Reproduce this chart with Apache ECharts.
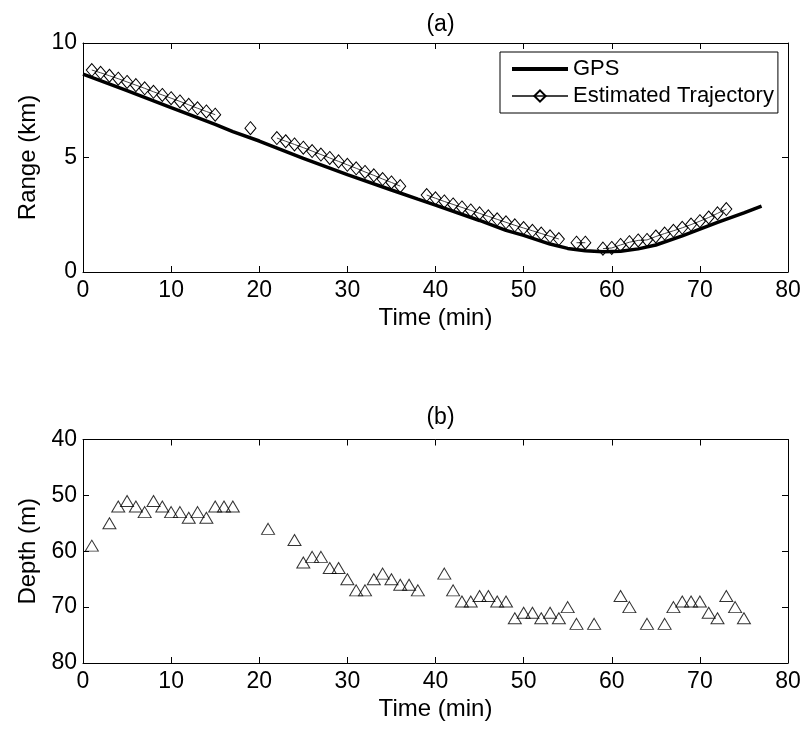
<!DOCTYPE html>
<html>
<head>
<meta charset="utf-8">
<script src="https://cdn.jsdelivr.net/npm/echarts@6/dist/echarts.min.js"></script>
<style>
  html, body { margin: 0; padding: 0; background: #fff; }
  #chart { width: 805px; height: 731px; }
</style>
</head>
<body>
<div id="chart"></div>
<script>
// ---- data ----
const xTicks = [0, 10, 20, 30, 40, 50, 60, 70, 80];
const rangeTicks = [0, 5, 10];
const depthTicks = [40, 50, 60, 70, 80];

// GPS range (km) vs time (min)
const gpsTime  = [0, 5, 10, 15, 17, 20, 25, 30, 35, 38, 40, 45, 48, 50, 53, 55, 57, 59, 61, 63, 65, 68, 70, 72, 75, 77];
const gpsRange = [8.64, 7.92, 7.18, 6.45, 6.13, 5.72, 4.96, 4.25, 3.58, 3.18, 2.92, 2.25, 1.82, 1.60, 1.22, 1.03, 0.93, 0.88, 0.91, 1.01, 1.18, 1.58, 1.87, 2.17, 2.58, 2.88];

// Estimated trajectory (diamonds)
const estTime  = [1, 2, 3, 4, 5, 6, 7, 8, 9, 10, 11, 12, 13, 14, 15,
                  19,
                  22, 23, 24, 25, 26, 27, 28, 29, 30, 31, 32, 33, 34, 35, 36,
                  39, 40, 41, 42, 43, 44, 45, 46, 47, 48, 49, 50, 51, 52, 53, 54,
                  56, 57,
                  59, 60, 61, 62, 63, 64, 65, 66, 67, 68, 69, 70, 71, 72, 73];
const estRange = [8.82, 8.70, 8.57, 8.44, 8.30, 8.16, 8.02, 7.87, 7.73, 7.59, 7.45, 7.30, 7.15, 7.01, 6.87,
                  6.28,
                  5.85, 5.71, 5.57, 5.43, 5.28, 5.13, 4.98, 4.83, 4.68, 4.53, 4.37, 4.22, 4.06, 3.91, 3.75,
                  3.36, 3.22, 3.08, 2.95, 2.82, 2.69, 2.56, 2.43, 2.30, 2.17, 2.04, 1.92, 1.80, 1.68, 1.56, 1.44,
                  1.28, 1.28,
                  1.02, 1.05, 1.18, 1.30, 1.38, 1.40, 1.55, 1.68, 1.80, 1.93, 2.07, 2.22, 2.38, 2.56, 2.75];

// Depth (m) vs time (min) (triangles)
const depthTime = [1, 3, 4, 5, 6, 7, 8, 9, 10, 11, 12, 13, 14, 15, 16, 17,
                   21, 24, 25, 26, 27, 28, 29, 30, 31, 32, 33, 34, 35, 36, 37, 38,
                   41, 42, 43, 44, 45, 46, 47, 48, 49, 50, 51, 52, 53, 54, 55, 56,
                   58, 61, 62, 64, 66, 67, 68, 69, 70, 71, 72, 73, 74, 75];
const depthVal  = [59, 55, 52, 51, 52, 53, 51, 52, 53, 53, 54, 53, 54, 52, 52, 52,
                   56, 58, 62, 61, 61, 63, 63, 65, 67, 67, 65, 64, 65, 66, 66, 67,
                   64, 67, 69, 69, 68, 68, 69, 69, 72, 71, 71, 72, 71, 72, 70, 73,
                   73, 68, 70, 73, 73, 70, 69, 69, 69, 71, 72, 68, 70, 72];

// ---- build ----
const FONT = "'Liberation Sans', Arial, sans-serif";
const gpsData = gpsTime.map((t, i) => [t, gpsRange[i]]);
const estData = [];
estTime.forEach((t, i) => {
  if (i > 0 && t - estTime[i - 1] > 1) estData.push([null, null]);
  estData.push([t, estRange[i]]);
});
const depthData = depthTime.map((t, i) => [t, depthVal[i]]);

function xAx(grid, primary) {
  return {
    gridIndex: grid, type: 'value', min: xTicks[0], max: xTicks[xTicks.length - 1], interval: 10,
    position: primary ? 'bottom' : 'top',
    name: primary ? 'Time (min)' : '', nameLocation: 'middle', nameGap: 34,
    nameTextStyle: { fontSize: 24, color: '#000', fontFamily: FONT, lineHeight: 24 },
    axisLine: { show: true, onZero: false, lineStyle: { color: '#000', width: 1 } },
    axisTick: { show: true, inside: true, length: 6, lineStyle: { color: '#000', width: 1 } },
    axisLabel: { show: primary, fontSize: 23, color: '#000', fontFamily: FONT, margin: 7 },
    splitLine: { show: false }
  };
}
function yAx(grid, primary, ticks, name, inverse) {
  return {
    gridIndex: grid, type: 'value', min: ticks[0], max: ticks[ticks.length - 1],
    interval: ticks[1] - ticks[0], inverse: inverse,
    position: primary ? 'left' : 'right',
    name: primary ? name : '', nameLocation: 'middle', nameGap: 42, nameRotate: 90,
    nameTextStyle: { fontSize: 24, color: '#000', fontFamily: FONT, lineHeight: 24 },
    axisLine: { show: true, onZero: false, lineStyle: { color: '#000', width: 1 } },
    axisTick: { show: true, inside: true, length: 6, lineStyle: { color: '#000', width: 1 } },
    axisLabel: { show: primary, fontSize: 23, color: '#000', fontFamily: FONT, margin: 6 },
    splitLine: { show: false }
  };
}

const chart = echarts.init(document.getElementById('chart'), null, { renderer: 'canvas' });
chart.setOption({
  animation: false,
  backgroundColor: '#fff',
  textStyle: { fontFamily: FONT },
  title: [
    { text: '(a)', left: 435.5, top: 8, textAlign: 'center',
      textStyle: { fontSize: 23, fontWeight: 'normal', color: '#000', fontFamily: FONT } },
    { text: '(b)', left: 435.5, top: 401, textAlign: 'center',
      textStyle: { fontSize: 23, fontWeight: 'normal', color: '#000', fontFamily: FONT } }
  ],
  grid: [
    { left: 83, top: 43, width: 705, height: 229 },
    { left: 83, top: 439.5, width: 705, height: 223.5 }
  ],
  xAxis: [xAx(0, true), xAx(0, false), xAx(1, true), xAx(1, false)],
  yAxis: [
    yAx(0, true, rangeTicks, 'Range (km)', false),
    yAx(0, false, rangeTicks, '', false),
    yAx(1, true, depthTicks, 'Depth (m)', true),
    yAx(1, false, depthTicks, '', true)
  ],
  legend: {
    data: [
      { name: 'GPS', icon: 'path://M0,0H56V4H0Z', itemStyle: { color: '#000', borderWidth: 0 } },
      { name: 'Estimated Trajectory' }
    ],
    orient: 'vertical', left: 500, top: 52, symbolKeepAspect: true,
    backgroundColor: '#fff', borderColor: '#000', borderWidth: 1, borderRadius: 0,
    padding: [6, 4, 6, 11], itemGap: 5, itemWidth: 56, itemHeight: 14,
    textStyle: { fontSize: 22, color: '#000', fontFamily: FONT, lineHeight: 22 }
  },
  series: [
    {
      name: 'GPS', type: 'line', xAxisIndex: 0, yAxisIndex: 0, data: gpsData,
      symbol: 'none', showSymbol: false, z: 2,
      lineStyle: { color: '#000', width: 3.5 }, itemStyle: { color: '#000' }
    },
    {
      name: 'Estimated Trajectory', type: 'line', xAxisIndex: 0, yAxisIndex: 0, data: estData,
      symbol: 'diamond', symbolSize: [11, 13], showSymbol: true, showAllSymbol: true, connectNulls: false, z: 3,
      lineStyle: { color: '#444', width: 1 },
      itemStyle: { color: 'rgba(255,255,255,0)', borderColor: '#000', borderWidth: 1 }
    },
    {
      name: 'Depth', type: 'scatter', xAxisIndex: 2, yAxisIndex: 2, data: depthData,
      symbol: 'triangle', symbolSize: [13, 11],
      itemStyle: { color: 'rgba(255,255,255,0)', borderColor: '#000', borderWidth: 1 }
    }
  ]
});
</script>
</body>
</html>
